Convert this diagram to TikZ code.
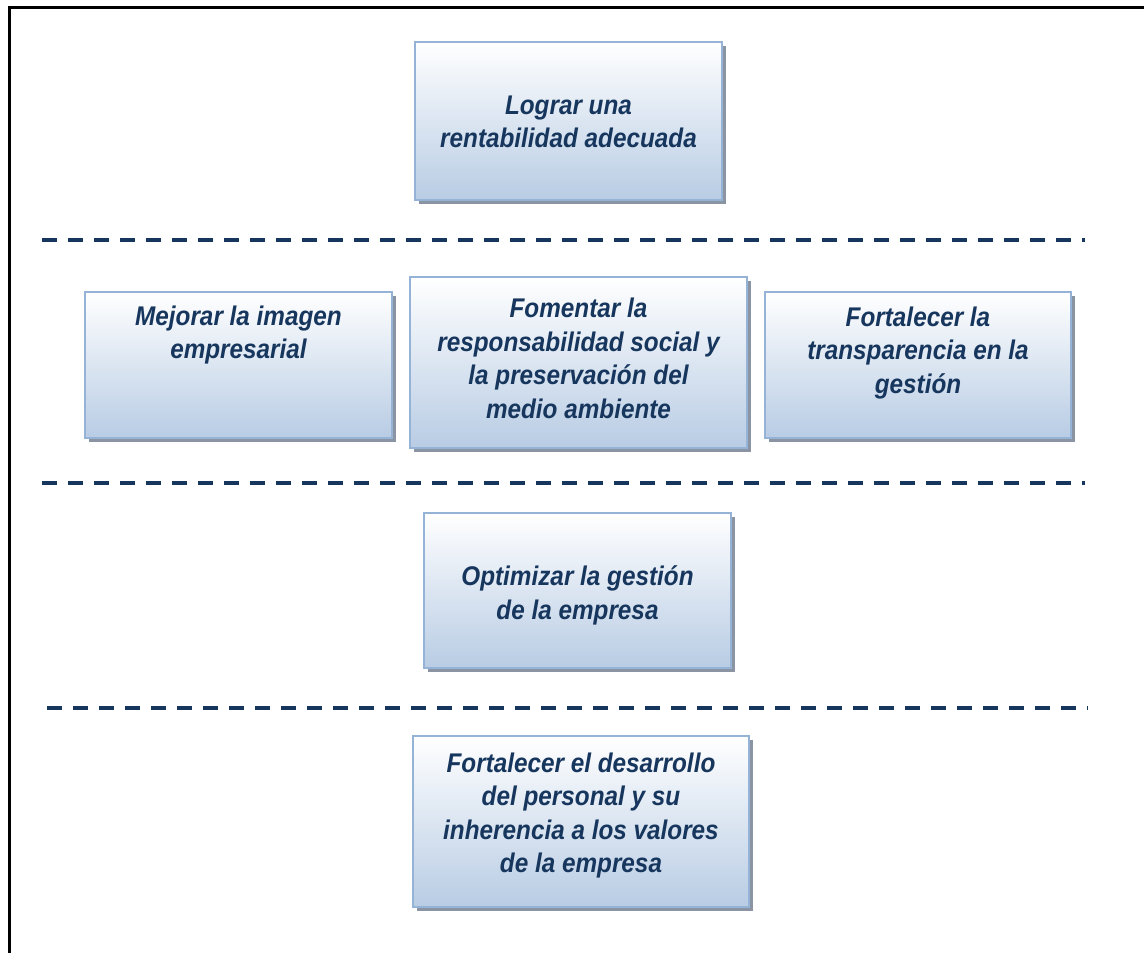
\documentclass[tikz,border=0pt]{standalone}
\usepackage{fontspec}
\setmainfont{Liberation Sans}
\newfontfamily\boxfont[FakeStretch=0.9]{Liberation Sans}
\usetikzlibrary{shadows}
\definecolor{navy}{HTML}{17365D}
\definecolor{boxborder}{HTML}{95B3D7}
\definecolor{boxbottom}{HTML}{B8CCE4}
\definecolor{shadowgray}{HTML}{8A94A2}
\tikzset{
  box/.style={rectangle, draw=boxborder, line width=2pt, inner sep=0pt,
    top color=white, bottom color=boxbottom,
    drop shadow={shadow xshift=4pt, shadow yshift=-4pt, fill=shadowgray, opacity=1}},
  boxtext/.style={align=center, text=navy, inner sep=0pt,
    font=\boxfont\fontsize{27}{33.5}\selectfont\bfseries\itshape},
  sep/.style={draw=navy, line width=3.2pt, dash pattern=on 15pt off 11pt},
  frame/.style={draw=black, line width=3pt}
}
\begin{document}
\begin{tikzpicture}[x=1pt,y=-1pt]
\useasboundingbox (0,0) rectangle (1144,953);
% frame
\coordinate (f1) at (9,954);
\coordinate (f2) at (9,7.5);
\coordinate (f3) at (1145,7.5);
\draw[frame] (f1) -- (f2) -- (f3);
% separators
\coordinate (s1a) at (42,240); \coordinate (s1b) at (1085,240);
\coordinate (s2a) at (42,483); \coordinate (s2b) at (1085,483);
\coordinate (s3a) at (47,708); \coordinate (s3b) at (1088,708);
\draw[sep] (s1a) -- (s1b);
\draw[sep] (s2a) -- (s2b);
\draw[sep] (s3a) -- (s3b);
% boxes
\node[box, minimum width=307pt, minimum height=158pt] (b1) at (568.5,121) {};
\node[box, minimum width=307pt, minimum height=146pt] (b2) at (238.5,365) {};
\node[box, minimum width=337pt, minimum height=171pt] (b3) at (578.5,362.5) {};
\node[box, minimum width=306pt, minimum height=146pt] (b4) at (918,365) {};
\node[box, minimum width=307pt, minimum height=155pt] (b5) at (577.5,590.5) {};
\node[box, minimum width=336pt, minimum height=171pt] (b6) at (581,821.5) {};
% texts
\node[boxtext] (t1) at ([yshift=-1pt]b1.center) {Lograr una\\rentabilidad adecuada};
\node[boxtext] (t2) at ([yshift=30pt]b2.center) {Mejorar la imagen\\empresarial};
\node[boxtext] (t3) at ([yshift=4pt]b3.center) {Fomentar la\\responsabilidad social y\\la preservación del\\medio ambiente};
\node[boxtext] (t4) at ([yshift=12pt]b4.center) {Fortalecer la\\transparencia en la\\gestión};
\node[boxtext] (t5) at ([yshift=-5pt]b5.center) {Optimizar la gestión\\de la empresa};
\node[boxtext] (t6) at ([yshift=6pt]b6.center) {Fortalecer el desarrollo\\del personal y su\\inherencia a los valores\\de la empresa};
\end{tikzpicture}
\end{document}
